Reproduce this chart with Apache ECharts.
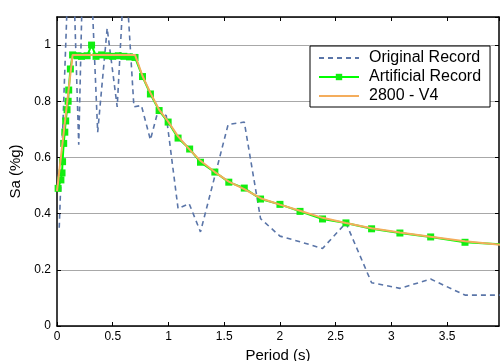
<!DOCTYPE html>
<html>
<head>
<meta charset="utf-8">
<script src="https://cdn.jsdelivr.net/npm/echarts@6/dist/echarts.min.js"></script>
<style>
html, body { margin: 0; padding: 0; background: #fff; }
#chart { width: 500px; height: 361px; }
</style>
</head>
<body>
<div id="chart"></div>
<script>
// original record (values above 1.1 are cut by the axis)
var origPeriods = [0.02, 0.105, 0.14, 0.195, 0.23, 0.30, 0.365, 0.45, 0.54, 0.61, 0.69, 0.757, 0.838, 0.907, 0.98, 1.086, 1.185, 1.287, 1.535, 1.68, 1.826, 2.0, 2.18, 2.382, 2.592, 2.822, 3.076, 3.352, 3.66, 4.0];
var origValues = [0.35, 1.3, 1.35, 0.645, 1.25, 1.3, 0.69, 1.06, 0.78, 1.3, 0.78, 0.785, 0.663, 0.767, 0.749, 0.418, 0.436, 0.335, 0.717, 0.726, 0.382, 0.32, 0.3, 0.276, 0.367, 0.154, 0.134, 0.167, 0.11, 0.11];

// artificial record
var artPeriods = [0.01, 0.035, 0.045, 0.05, 0.06, 0.07, 0.078, 0.09, 0.1, 0.105, 0.12, 0.14,
    0.18, 0.22, 0.27, 0.31, 0.35, 0.4, 0.45, 0.5, 0.55, 0.6, 0.65, 0.7,
    0.767, 0.838, 0.916, 0.997, 1.086, 1.19, 1.287, 1.416, 1.541, 1.68, 1.826, 2.0, 2.18, 2.382, 2.592, 2.822, 3.076, 3.352, 3.66, 4.0];
var artValues = [0.49, 0.52, 0.545, 0.585, 0.65, 0.69, 0.73, 0.77, 0.8, 0.84, 0.915, 0.965,
    0.962, 0.96, 0.962, 1.0, 0.96, 0.965, 0.962, 0.96, 0.962, 0.96, 0.958, 0.956,
    0.888, 0.826, 0.767, 0.726, 0.669, 0.63, 0.583, 0.548, 0.512, 0.491, 0.452, 0.433, 0.408, 0.381, 0.367, 0.346, 0.331, 0.317, 0.298, 0.29];

// design spectrum 2800 - V4
var codePeriods = [0, 0.14, 0.7, 0.767, 0.838, 0.916, 0.997, 1.086, 1.19, 1.287, 1.416, 1.541, 1.68, 1.826, 2.0, 2.18, 2.382, 2.592, 2.822, 3.076, 3.352, 3.66, 4.0];
var codeValues = [0.48, 0.965, 0.965, 0.89, 0.83, 0.77, 0.728, 0.675, 0.628, 0.588, 0.548, 0.514, 0.487, 0.455, 0.432, 0.41, 0.385, 0.367, 0.348, 0.333, 0.318, 0.302, 0.288];

var seriesNames = ['Original Record', 'Artificial Record', '2800 - V4'];

function pairs(xs, ys) {
    var out = [];
    for (var i = 0; i < xs.length; i++) {
        out.push([xs[i], ys[i]]);
    }
    return out;
}

var font = 'Liberation Sans, Arial, sans-serif';
var chart = echarts.init(document.getElementById('chart'));

// black box round the plot, ticks pointing in
var boxLine = { show: true, onZero: false, lineStyle: { color: '#000', width: 1.5 } };
var boxTick = { show: true, inside: true, length: 4, lineStyle: { color: '#000' } };
// no symbol in the legend for the plain lines
var noMarker = { color: 'transparent', borderWidth: 0 };

option = {
    backgroundColor: '#fff',
    animation: false,
    grid: { left: 57, right: 1, top: 17, bottom: 35, containLabel: false, outerBoundsMode: 'none' },
    legend: {
        data: [
            { name: seriesNames[0], itemStyle: noMarker },
            { name: seriesNames[1] },
            { name: seriesNames[2], itemStyle: noMarker }
        ],
        orient: 'vertical',
        left: 310,
        top: 46,
        padding: [3, 9, 2, 8],
        itemWidth: 40,
        itemHeight: 8,
        itemGap: 1,
        backgroundColor: '#fff',
        borderColor: '#000',
        borderWidth: 1,
        borderRadius: 0,
        textStyle: { fontSize: 16, fontFamily: font, color: '#000', lineHeight: 18, padding: [0, 0, 0, 5] }
    },
    xAxis: [{
        type: 'value',
        min: 0,
        max: 3.965,
        interval: 0.5,
        name: 'Period (s)',
        nameLocation: 'middle',
        nameGap: 17,
        nameTextStyle: { fontSize: 15, fontFamily: font, color: '#000' },
        axisLine: boxLine,
        axisTick: boxTick,
        splitLine: { show: false },
        axisLabel: { fontSize: 12, fontFamily: font, color: '#000', margin: 5, showMaxLabel: false }
    }, {
        type: 'value',
        position: 'top',
        min: 0,
        max: 3.965,
        interval: 0.5,
        axisLine: boxLine,
        axisTick: boxTick,
        splitLine: { show: false },
        axisLabel: { show: false }
    }],
    yAxis: [{
        type: 'value',
        min: 0,
        max: 1.1,
        interval: 0.2,
        name: 'Sa (%g)',
        nameLocation: 'middle',
        nameGap: 29,
        nameTextStyle: { fontSize: 15, fontFamily: font, color: '#000' },
        axisLine: boxLine,
        axisTick: boxTick,
        splitLine: { show: true, lineStyle: { color: '#a8a8a8', width: 1 } },
        axisLabel: { fontSize: 12, fontFamily: font, color: '#000', margin: 6, showMaxLabel: false }
    }, {
        type: 'value',
        position: 'right',
        min: 0,
        max: 1.1,
        interval: 0.2,
        axisLine: boxLine,
        axisTick: boxTick,
        splitLine: { show: false },
        axisLabel: { show: false }
    }],
    series: [{
        name: seriesNames[0],
        type: 'line',
        z: 2,
        symbol: 'none',
        clip: true,
        lineStyle: { color: '#5a75a8', width: 1.6, type: [5, 4] },
        itemStyle: { color: '#5a75a8' },
        data: pairs(origPeriods, origValues)
    }, {
        name: seriesNames[1],
        type: 'line',
        z: 3,
        symbol: 'rect',
        symbolSize: 7,
        clip: true,
        lineStyle: { color: '#00ff00', width: 2 },
        itemStyle: { color: '#11ee11' },
        data: pairs(artPeriods, artValues)
    }, {
        name: seriesNames[2],
        type: 'line',
        z: 4,
        symbol: 'none',
        clip: true,
        lineStyle: { color: '#f4ad5c', width: 2 },
        itemStyle: { color: '#f4ad5c' },
        data: pairs(codePeriods, codeValues)
    }]
};

chart.setOption(option);
</script>
</body>
</html>
